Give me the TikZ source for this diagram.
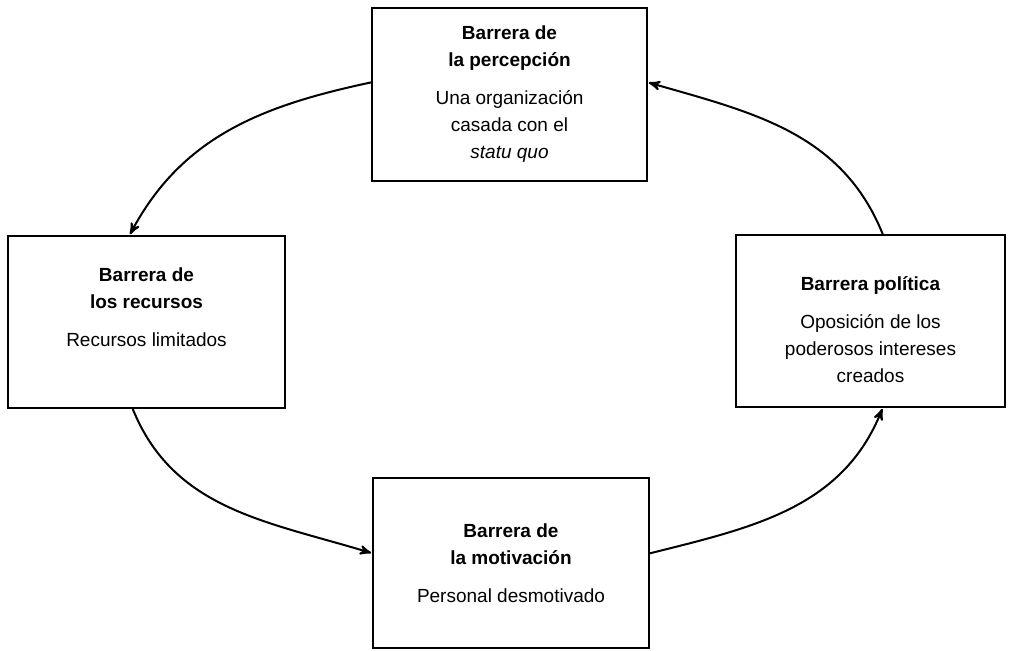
\documentclass[tikz,border=0pt]{standalone}
\usepackage{fontspec}
\setmainfont{Liberation Sans}
\usepackage{tikz}
\usetikzlibrary{arrows,positioning}

\begin{document}
\begin{tikzpicture}[x=0.5pt, y=-0.5pt, >=stealth',
	shorten > = 0.5pt,
	barrera/.style = {draw, line width=0.9pt, rectangle, align=center, inner sep=0pt,
		font=\fontsize{9.5}{13.5}\selectfont},
	ciclo/.style = {->, line width=1pt}
	]
	\useasboundingbox (0,0) rectangle (1010,650);
	
	\node (tp) [barrera, minimum width=137.5pt, minimum height=86.5pt] at (509.5,94.5)
	{\textbf{Barrera de}\\\textbf{la percepción}\\[5.5pt]Una organización\\casada con el\\\textit{statu quo}};
	
	\node (lf) [barrera, minimum width=138.5pt, minimum height=86pt] at (146.5,322)
	{\textbf{Barrera de}\\\textbf{los recursos}\\[5.5pt]Recursos limitados\\[1pt]};
	\node (rt) [barrera, minimum width=134.5pt, minimum height=86pt] at (870.5,321)
	{\rule{0pt}{16pt}\textbf{Barrera política}\\[5.5pt]Oposición de los\\poderosos intereses\\creados};
	
	\node (bt) [barrera, minimum width=138pt, minimum height=85pt] at (511,563)
	{\textbf{Barrera de}\\\textbf{la motivación}\\[5.5pt]Personal desmotivado};
	
	\path[ciclo]
	(tp.175)  edge [out=192, in=62]   (lf.101)
	(lf.261)  edge [out=-68, in=163]  (bt.176)
	(bt.4)    edge [out=14, in=-112]  (rt.278)
	(rt.82)   edge [out=112, in=-16]  (tp.5);
\end{tikzpicture}
\end{document}
